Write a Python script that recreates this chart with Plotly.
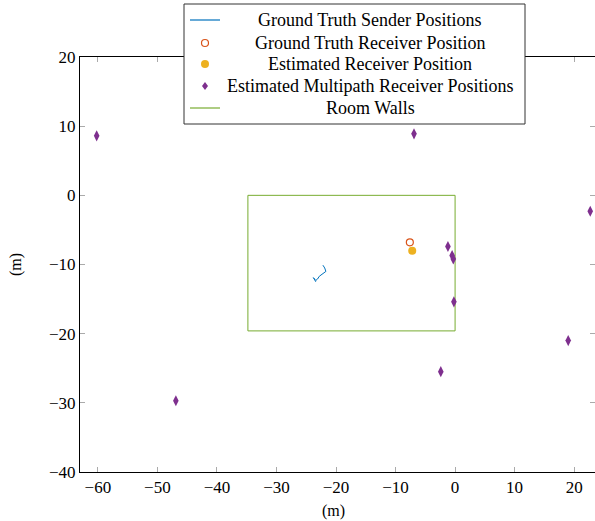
import plotly.graph_objects as go

# ---------------- data ----------------
sender_x = [-22.2, -21.9, -21.7, -22.0, -22.4, -22.8, -23.1, -23.4, -23.8, -23.6, -23.4]
sender_y = [-10.1, -10.5, -11.0, -11.2, -11.4, -11.7, -12.1, -12.3, -11.9, -12.2, -12.5]

gt_receiver_x = [-7.6]
gt_receiver_y = [-6.8]

est_receiver_x = [-7.2]
est_receiver_y = [-8.0]

multipath_x = [-60.2, -6.9, 22.7, -1.2, -0.5, -0.3, -0.2, -2.4, 19.0, -46.9]
multipath_y = [8.6, 8.9, -2.3, -7.4, -8.7, -9.2, -15.4, -25.5, -21.0, -29.7]

walls_x = [-34.8, 0.0, 0.0, -34.8, -34.8]
walls_y = [0.0, 0.0, -19.6, -19.6, 0.0]

x_ticks = [-60, -50, -40, -30, -20, -10, 0, 10, 20]
y_ticks = [-40, -30, -20, -10, 0, 10, 20]

legend_labels = [
    "Ground Truth Sender Positions",
    "Ground Truth Receiver Position",
    "Estimated Receiver Position",
    "Estimated Multipath Receiver Positions",
    "Room Walls",
]

# ---------------- styles ----------------
BLUE = "#0072BD"
ORANGE = "#D95319"
YELLOW = "#EDB120"
PURPLE = "#7E2F8E"
GREEN = "#77AC30"
FONT = "Liberation Serif"

W, H = 595, 521
L, R, T, B = 80, 0, 57, 49
PW, PH = W - L - R, H - T - B


def px(xp):
    return (xp - L) / PW


def py(yp):
    return (H - B - yp) / PH


fig = go.Figure()

fig.add_trace(go.Scatter(x=walls_x, y=walls_y, mode="lines",
                         line=dict(color=GREEN, width=1), showlegend=False))
fig.add_trace(go.Scatter(x=sender_x, y=sender_y, mode="lines",
                         line=dict(color=BLUE, width=1), showlegend=False))
fig.add_trace(go.Scatter(x=gt_receiver_x, y=gt_receiver_y, mode="markers",
                         marker=dict(symbol="circle-open", size=7, color=ORANGE,
                                     line=dict(width=1.2, color=ORANGE)),
                         showlegend=False))
fig.add_trace(go.Scatter(x=est_receiver_x, y=est_receiver_y, mode="markers",
                         marker=dict(symbol="circle", size=8, color=YELLOW),
                         showlegend=False))
fig.add_trace(go.Scatter(x=multipath_x, y=multipath_y, mode="markers",
                         marker=dict(symbol="diamond-tall", size=8, color=PURPLE),
                         showlegend=False))

# ---------------- manual legend ----------------
shapes = []
annotations = []
shapes.append(dict(type="rect", xref="paper", yref="paper",
                   x0=px(184), x1=px(525), y0=py(124), y1=py(4),
                   line=dict(color="#333", width=1), fillcolor="white", layer="above"))
rows = [20, 43, 64, 86, 108]
sx = px(205)
for i, (lab, ry) in enumerate(zip(legend_labels, rows)):
    annotations.append(dict(x=px(370), y=py(ry), xref="paper", yref="paper",
                            text=lab, showarrow=False, xanchor="center", yanchor="middle",
                            font=dict(family=FONT, size=18, color="black")))
# samples
shapes.append(dict(type="line", xref="paper", yref="paper", x0=px(190), x1=px(220),
                   y0=py(rows[0]), y1=py(rows[0]), line=dict(color=BLUE, width=1.2), layer="above"))
shapes.append(dict(type="circle", xref="paper", yref="paper", xsizemode="pixel", ysizemode="pixel",
                   xanchor=sx, yanchor=py(rows[1]), x0=-3.5, x1=3.5, y0=-3.5, y1=3.5,
                   line=dict(color=ORANGE, width=1.2), fillcolor="white", layer="above"))
shapes.append(dict(type="circle", xref="paper", yref="paper", xsizemode="pixel", ysizemode="pixel",
                   xanchor=sx, yanchor=py(rows[2]), x0=-4, x1=4, y0=-4, y1=4,
                   line=dict(color=YELLOW, width=0), fillcolor=YELLOW, layer="above"))
shapes.append(dict(type="path", xref="paper", yref="paper", xsizemode="pixel", ysizemode="pixel",
                   xanchor=sx, yanchor=py(rows[3]),
                   path="M 0,4 L 3,0 L 0,-4 L -3,0 Z",
                   line=dict(color=PURPLE, width=0), fillcolor=PURPLE, layer="above"))
shapes.append(dict(type="line", xref="paper", yref="paper", x0=px(190), x1=px(220),
                   y0=py(rows[4]), y1=py(rows[4]), line=dict(color=GREEN, width=1.2), layer="above"))

# axis titles
annotations.append(dict(x=px(333), y=py(511), xref="paper", yref="paper", text="(m)",
                        showarrow=False, xanchor="center", yanchor="middle",
                        font=dict(family=FONT, size=16, color="black")))
annotations.append(dict(x=px(16), y=py(265), xref="paper", yref="paper", text="(m)",
                        showarrow=False, xanchor="center", yanchor="middle", textangle=-90,
                        font=dict(family=FONT, size=16, color="black")))

axis_common = dict(showgrid=False, zeroline=False, showline=True, linecolor="black",
                   linewidth=1, mirror="ticks", ticks="inside", ticklen=5,
                   tickcolor="#aaa", tickwidth=1,
                   tickfont=dict(family=FONT, size=17, color="black"))

fig.update_layout(
    width=W, height=H,
    margin=dict(l=L, r=R, t=T, b=B, pad=0),
    plot_bgcolor="white", paper_bgcolor="white",
    showlegend=False,
    xaxis=dict(range=[-63.0, 23.5], tickvals=x_ticks, **axis_common),
    yaxis=dict(range=[-40, 20], tickvals=y_ticks, **axis_common),
    shapes=shapes, annotations=annotations,
)

fig.write_html("out.html")
